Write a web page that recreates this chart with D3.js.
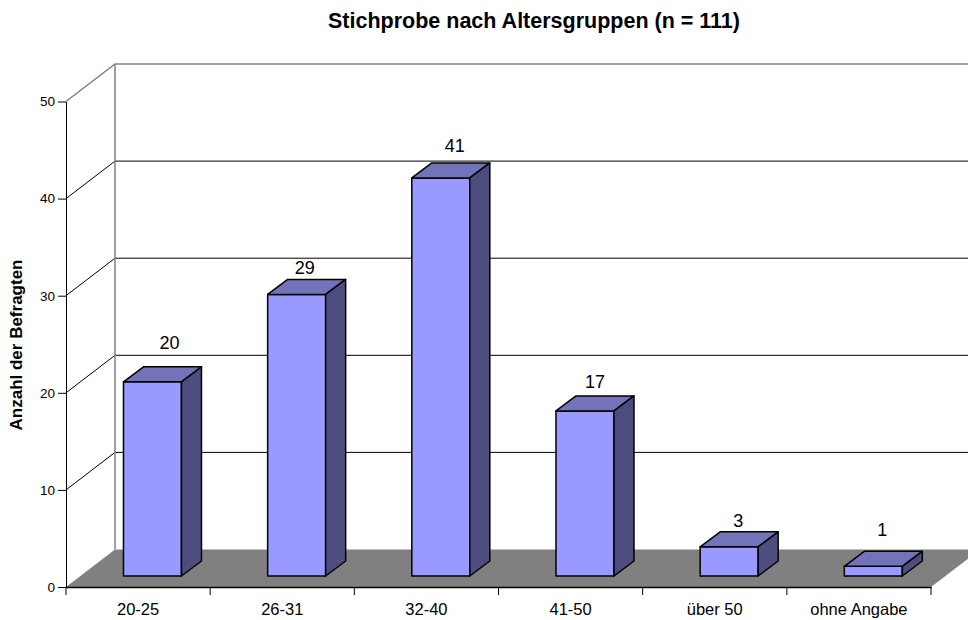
<!DOCTYPE html>
<html>
<head>
<meta charset="utf-8">
<script src="https://cdn.jsdelivr.net/npm/d3@7"></script>
<style>
  body { margin: 0; background: #fff; }
  text { font-family: "Liberation Sans", Arial, sans-serif; fill: #000; }
</style>
</head>
<body>
<div id="chart"></div>
<script>
var categories = ["20-25", "26-31", "32-40", "41-50", "über 50", "ohne Angabe"];
var counts = [20, 29, 41, 17, 3, 1];
var yTicks = [0, 10, 20, 30, 40, 50];

var width = 968, height = 620;
// 3d offsets: floor depth, and how far the bars sit from the front and how deep they are
var wallDx = 49, wallDy = -37.5;
var barFrontX = 14.4, barFrontY = -11;
var barDx = 20, barDy = -15;
var barWidth = 58;
// excel placed the labels a bit unevenly
var labelDx = [17, 8, 14, 10, 9, 9];
var labelDy = [-33, -20, -26, -23, -20, -30];

var svg = d3.select('#chart')
    .append('svg')
    .attr('width', width)
    .attr('height', height)
    .style('display', 'block');

var x = d3.scaleBand().domain(categories).range([66, 931]);
var y = d3.scaleLinear().domain([0, 50]).range([587, 101.5]);

// floor
var x0 = x.range()[0], x1 = x.range()[1], y0 = y(0);
svg.append('path')
    .attr('d', d3.line()([[x0, y0], [x0 + wallDx, y0 + wallDy], [x1 + wallDx, y0 + wallDy], [x1, y0]]) + 'Z')
    .attr('fill', '#808080');

// gridlines on the side and back wall
var grid = svg.append('g');
grid.selectAll('path')
    .data(yTicks.filter(function (d) { return d > 0; }))
    .enter().append('path')
    .attr('d', function (d) {
        return d3.line()([[x0, y(d)], [x0 + wallDx, y(d) + wallDy], [width, y(d) + wallDy]]);
    })
    .attr('fill', 'none')
    .attr('stroke', function (d) { return d === 50 ? '#808080' : '#000'; })
    .attr('stroke-width', function (d) { return d === 50 ? 1.5 : 1; });

svg.append('line')
    .attr('x1', x0 + wallDx).attr('x2', x0 + wallDx)
    .attr('y1', y(50) + wallDy).attr('y2', y0 + wallDy)
    .attr('stroke', '#808080')
    .attr('stroke-width', 1.5);

// axes
var yAxis = svg.append('g')
    .attr('transform', 'translate(' + x0 + ',0)')
    .call(d3.axisLeft(y).tickValues(yTicks).tickSize(8).tickPadding(3).tickSizeOuter(0));
yAxis.selectAll('text').style('font-size', '13.5px');

var xAxis = svg.append('g')
    .attr('transform', 'translate(0,' + y0 + ')')
    .call(d3.axisBottom(x).tickValues([]).tickSizeOuter(0));
xAxis.select('.domain').attr('stroke-width', 1.5);

// ticks go between the categories
var bandEdges = categories.map(function (d) { return x(d); }).concat([x1]);
xAxis.selectAll('.edge')
    .data(bandEdges)
    .enter().append('line')
    .attr('class', 'edge')
    .attr('x1', function (d) { return d; })
    .attr('x2', function (d) { return d; })
    .attr('y1', 0).attr('y2', 8)
    .attr('stroke', '#000');

xAxis.selectAll('.cat')
    .data(categories)
    .enter().append('text')
    .attr('class', 'cat')
    .attr('x', function (d) { return x(d) + x.bandwidth() / 2; })
    .attr('y', 28)
    .attr('text-anchor', 'middle')
    .style('font-size', '16.5px')
    .text(function (d) { return d; });

// bars
var bars = svg.selectAll('.bar')
    .data(counts)
    .enter().append('g')
    .attr('class', 'bar')
    .attr('stroke', '#000')
    .attr('stroke-width', 1.5)
    .attr('stroke-linejoin', 'round');

function barLeft(d, i) { return x(categories[i]) + (x.bandwidth() - barWidth) / 2 + barFrontX; }
function barTop(d) { return y(d) + barFrontY; }
var base = y(0) + barFrontY;

bars.append('rect')
    .attr('x', barLeft)
    .attr('y', barTop)
    .attr('width', barWidth)
    .attr('height', function (d) { return base - barTop(d); })
    .attr('fill', '#9999ff');

bars.append('path')
    .attr('fill', '#7373b9')
    .attr('d', function (d, i) {
        var l = barLeft(d, i), t = barTop(d);
        return d3.line()([[l, t], [l + barDx, t + barDy], [l + barWidth + barDx, t + barDy], [l + barWidth, t]]) + 'Z';
    });

bars.append('path')
    .attr('fill', '#4d4d7f')
    .attr('d', function (d, i) {
        var r = barLeft(d, i) + barWidth, t = barTop(d);
        return d3.line()([[r, t], [r + barDx, t + barDy], [r + barDx, base + barDy], [r, base]]) + 'Z';
    });

svg.selectAll('.value')
    .data(counts)
    .enter().append('text')
    .attr('class', 'value')
    .attr('x', function (d, i) { return barLeft(d, i) + barWidth / 2 + labelDx[i]; })
    .attr('y', function (d, i) { return barTop(d) + labelDy[i]; })
    .attr('text-anchor', 'middle')
    .style('font-size', '18px')
    .text(function (d) { return d; });

svg.append('text')
    .attr('x', 534)
    .attr('y', 28)
    .attr('text-anchor', 'middle')
    .style('font-size', '21.5px')
    .style('font-weight', 'bold')
    .text('Stichprobe nach Altersgruppen (n = 111)');

svg.append('text')
    .attr('transform', 'translate(22,345) rotate(-90)')
    .attr('text-anchor', 'middle')
    .style('font-size', '17px')
    .style('font-weight', 'bold')
    .text('Anzahl der Befragten');
</script>
</body>
</html>
